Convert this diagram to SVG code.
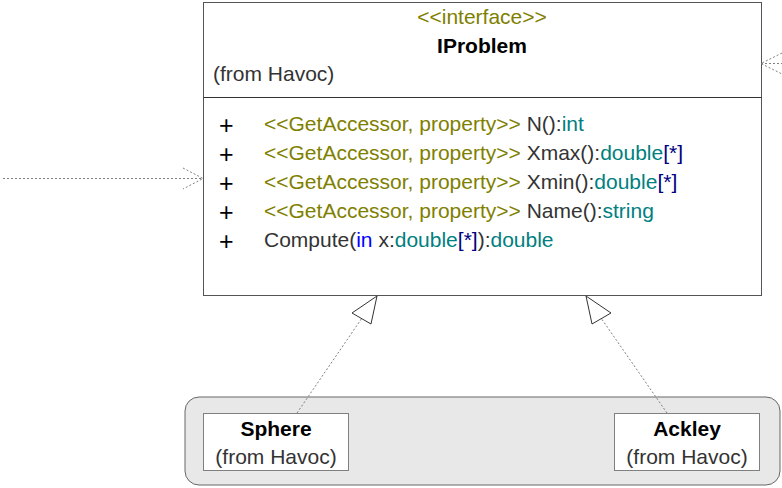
<svg xmlns="http://www.w3.org/2000/svg" width="782" height="488" viewBox="0 0 782 488">
<style>
text{font-family:"Liberation Sans",Arial,sans-serif;font-size:21px;fill:#333}
.st{fill:#808000}
.ty{fill:#008080}
.kw{fill:#0000ff}
.ar{fill:#000080}
.b{font-weight:bold;fill:#000}
.pl{fill:#000;font-size:25px}
.c{text-anchor:middle}
.dash{fill:none;stroke:#808080;stroke-width:1;stroke-dasharray:2,2}
.head{fill:#fff;stroke:#333;stroke-width:1}
.open{fill:none;stroke:#808080;stroke-width:1;stroke-dasharray:2,2}
</style>
<rect width="782" height="488" fill="#fff"/>
<g id="package">
<rect x="185" y="397" width="595" height="88" rx="14" fill="#e8e8e8" stroke="#666" stroke-width="1"/>
</g>
<g id="IProblem">
<rect x="203.5" y="2.5" width="558" height="293" fill="#fff" stroke="#555"/>
<line x1="203.5" y1="97.5" x2="761.5" y2="97.5" stroke="#333"/>
<text class="st c" x="482" y="24">&lt;&lt;interface&gt;&gt;</text>
<text class="b c" x="482" y="53">IProblem</text>
<text x="213" y="81">(from Havoc)</text>
<text class="pl" x="219" y="134">+</text>
<text class="pl" x="219" y="163">+</text>
<text class="pl" x="219" y="192">+</text>
<text class="pl" x="219" y="221">+</text>
<text class="pl" x="219" y="250">+</text>
<text x="264" y="131"><tspan class="st">&lt;&lt;GetAccessor, property&gt;&gt;</tspan> N():<tspan class="ty">int</tspan></text>
<text x="264" y="160"><tspan class="st">&lt;&lt;GetAccessor, property&gt;&gt;</tspan> Xmax():<tspan class="ty">double</tspan><tspan class="ar">[*]</tspan></text>
<text x="264" y="189"><tspan class="st">&lt;&lt;GetAccessor, property&gt;&gt;</tspan> Xmin():<tspan class="ty">double</tspan><tspan class="ar">[*]</tspan></text>
<text x="264" y="218"><tspan class="st">&lt;&lt;GetAccessor, property&gt;&gt;</tspan> Name():<tspan class="ty">string</tspan></text>
<text x="264" y="247">Compute(<tspan class="kw">in</tspan> x:<tspan class="ty">double</tspan><tspan class="ar">[*]</tspan>):<tspan class="ty">double</tspan></text>
</g>
<g id="Sphere">
<rect x="203.5" y="413.5" width="145" height="57" fill="#fff" stroke="#808080"/>
<text class="b c" x="276" y="436">Sphere</text>
<text class="c" x="276" y="464">(from Havoc)</text>
</g>
<g id="Ackley">
<rect x="614.5" y="413.5" width="145" height="57" fill="#fff" stroke="#808080"/>
<text class="b c" x="687" y="436">Ackley</text>
<text class="c" x="687" y="464">(from Havoc)</text>
</g>
<g id="connectors">
<line class="dash" x1="3" y1="178.5" x2="203" y2="178.5"/>
<polyline class="open" points="183,168 203,178.5 183,189"/>
<line class="dash" x1="761" y1="63.5" x2="782" y2="63.5"/>
<polyline class="open" points="782,53 761,63.5 782,74"/>
<line class="dash" x1="297" y1="413" x2="362" y2="318"/>
<polygon class="head" points="377,296 352,313 371,324"/>
<line class="dash" x1="667" y1="413" x2="601" y2="318"/>
<polygon class="head" points="586,296 592,324 611,313"/>
</g>
</svg>
